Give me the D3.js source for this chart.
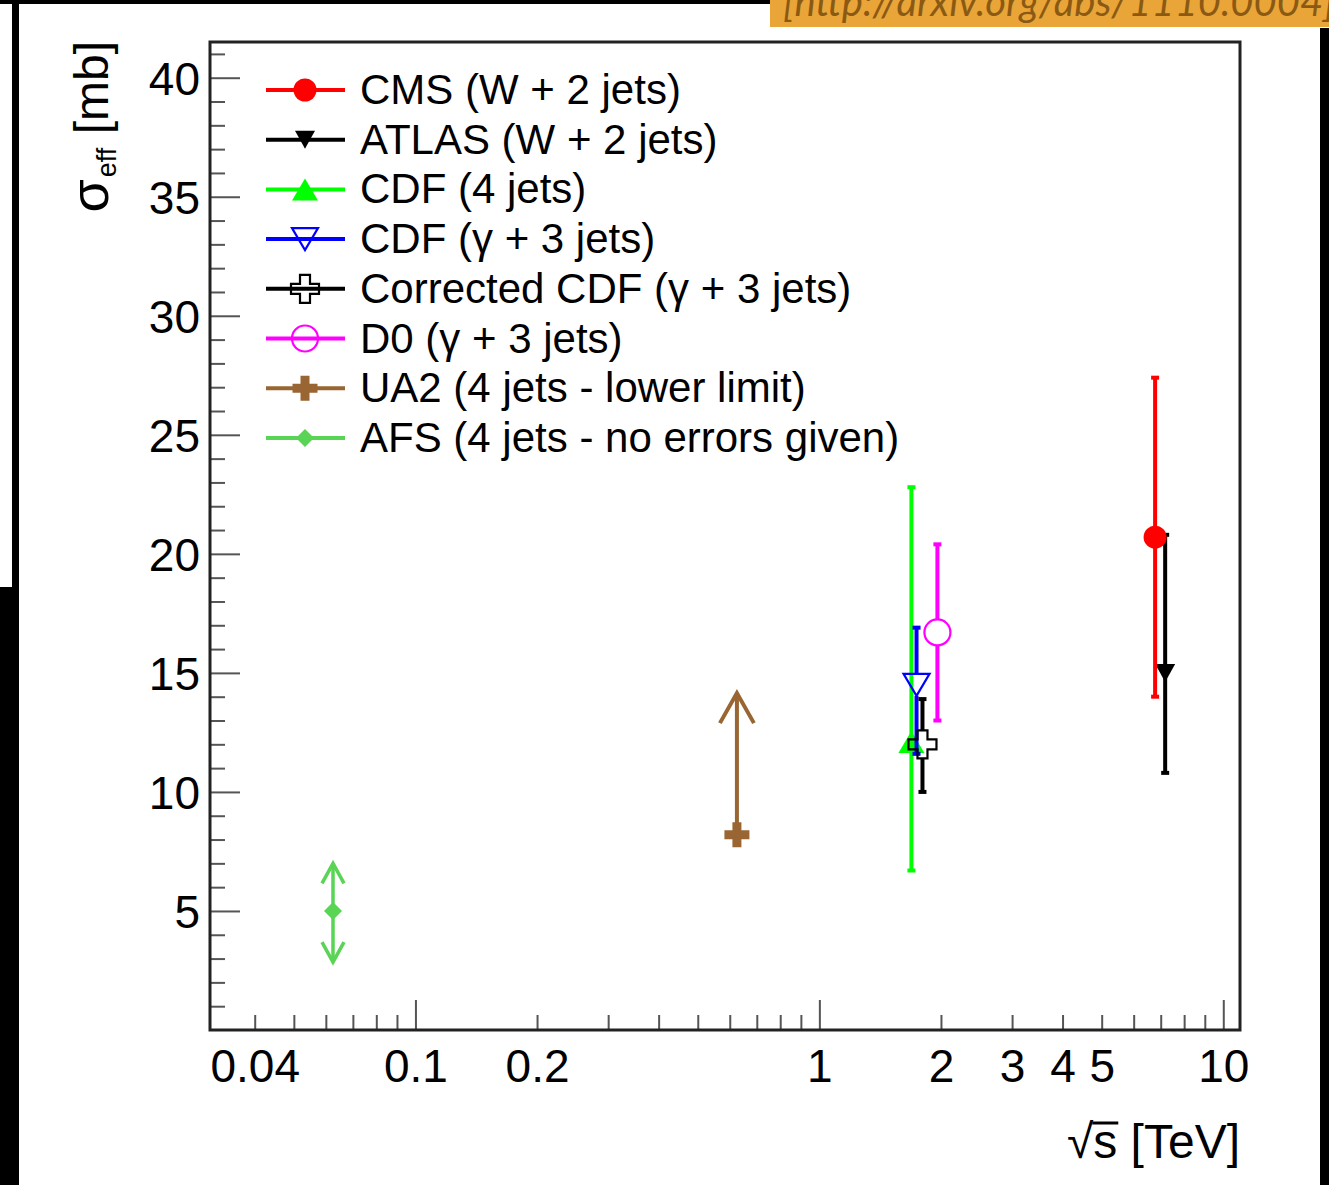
<!DOCTYPE html>
<html><head><meta charset="utf-8">
<script src="https://cdn.jsdelivr.net/npm/d3@7"></script>
<style>
body{margin:0;background:#fff;}
svg{display:block;}
text{font-family:"Liberation Sans",Arial,Helvetica,sans-serif;}
</style>
</head><body>
<svg id="c" width="1329" height="1185"></svg>
<script>
// ---------------- data ----------------
const seriesNames = [
  "CMS (W + 2 jets)",
  "ATLAS (W + 2 jets)",
  "CDF (4 jets)",
  "CDF (γ + 3 jets)",
  "Corrected CDF (γ + 3 jets)",
  "D0 (γ + 3 jets)",
  "UA2 (4 jets - lower limit)",
  "AFS (4 jets - no errors given)"
];
const sqrtS     = [6.78, 7.18, 1.69, 1.74, 1.80, 1.96, 0.625, 0.0625];
const sigmaEff  = [20.7, 15.0, 12.1, 14.5, 12.0, 16.7, 8.2, 5.0];
const sigmaHigh = [27.4, 20.8, 22.8, 16.9, 13.9, 20.4, 14.15, 7.0];
const sigmaLow  = [14.0, 10.8, 6.7, 11.6, 10.0, 13.0, null, 2.85];
const errorKind = ["bar","bar","bar","bar","bar","bar","limitUp","noError"];
const colors    = ["#ff0000","#000000","#00ff00","#0000ff","#000000","#ff00ff","#996633","#59d454"];
const markers   = ["circle","triangleDown","triangle","triangleDownOpen","crossOpen","circleOpen","plus","diamond"];

const xTickMajor  = [0.1, 1, 10];
const xTickMinor  = [0.04,0.05,0.06,0.07,0.08,0.09,0.2,0.3,0.4,0.5,0.6,0.7,0.8,0.9,2,3,4,5,6,7,8,9];
const xTickLabels = [0.04, 0.1, 0.2, 1, 2, 3, 4, 5, 10];
const yTickMajor  = [5,10,15,20,25,30,35,40];
const yTickMinor  = [1,2,3,4,6,7,8,9,11,12,13,14,16,17,18,19,21,22,23,24,26,27,28,29,31,32,33,34,36,37,38,39,41];
const xDomain = [0.031, 11];
const yDomain = [0, 41.5];

// ---------------- layout ----------------
const svg = d3.select("#c");
const L = 210, R = 1240, T = 42, B = 1030;
const x = d3.scaleLog().domain(xDomain).range([L, R]);
const y = d3.scaleLinear().domain(yDomain).range([B, T]);

// page decorations (surrounding screenshot pieces)
svg.append("rect").attr("x",0).attr("y",0).attr("width",770).attr("height",4).attr("fill","#000");
svg.append("rect").attr("x",12).attr("y",0).attr("width",7).attr("height",587).attr("fill","#000");
svg.append("rect").attr("x",0).attr("y",587).attr("width",19).attr("height",598).attr("fill","#000");
svg.append("rect").attr("x",1320).attr("y",28).attr("width",9).attr("height",1157).attr("fill","#000");
svg.append("rect").attr("x",770).attr("y",0).attr("width",559).attr("height",27).attr("fill","#e9a538");
svg.append("text").attr("x",783).attr("y",16)
  .style("font-family","Lato, 'Open Sans', sans-serif").style("font-style","italic")
  .style("font-size","40px").attr("fill","#8a5a14")
  .text("[http://arxiv.org/abs/1110.0004]");

// ---------------- axes ----------------
const tickCol = "#555";
function styleAxis(g){
  g.select(".domain").remove();
  g.selectAll(".tick line").attr("stroke",tickCol).attr("stroke-width",2);
  g.selectAll(".tick text").attr("fill","#000").style("font-size","46px")
   .style("font-family",'"Liberation Sans",Arial,Helvetica,sans-serif');
}
const fmtX = d => xTickLabels.includes(d) ? String(d) : "";
svg.append("g").attr("transform",`translate(0,${B})`)
  .call(d3.axisBottom(x).tickValues(xTickMajor).tickSize(-30).tickPadding(19).tickFormat(fmtX))
  .call(styleAxis);
svg.append("g").attr("transform",`translate(0,${B})`)
  .call(d3.axisBottom(x).tickValues(xTickMinor).tickSize(-15).tickPadding(19).tickFormat(fmtX))
  .call(styleAxis);
svg.append("g").attr("transform",`translate(${L},0)`)
  .call(d3.axisLeft(y).tickValues(yTickMajor).tickSize(-30).tickPadding(10).tickFormat(d3.format("d")))
  .call(styleAxis)
  .call(g=>g.selectAll(".tick text").attr("dy","0.37em"));
svg.append("g").attr("transform",`translate(${L},0)`)
  .call(d3.axisLeft(y).tickValues(yTickMinor).tickSize(-15).tickFormat(""))
  .call(styleAxis);

// frame
svg.append("rect").attr("x",L).attr("y",T).attr("width",R-L).attr("height",B-T)
  .attr("fill","none").attr("stroke","#222").attr("stroke-width",3);

// axis titles
const yt = svg.append("text").attr("transform",`translate(108,${T-1}) rotate(-90)`)
  .attr("text-anchor","end").style("font-size","48px");
yt.append("tspan").style("font-size","54px").text("σ");
yt.append("tspan").attr("dy",8).attr("dx",2).style("font-size","27px").text("eff");
yt.append("tspan").attr("dy",-8).text(" [mb]");

const xt = svg.append("text").attr("x",R).attr("y",1158).attr("text-anchor","end")
  .style("font-size","48px").text("√s [TeV]");
{
  const ext = xt.node().getExtentOfChar(1);
  svg.append("line").attr("x1",ext.x-1).attr("x2",ext.x+ext.width+1)
    .attr("y1",1158-35).attr("y2",1158-35).attr("stroke","#000").attr("stroke-width",3);
}

// ---------------- markers ----------------
function drawMarker(g, type, color){
  switch(type){
    case "circle": g.append("circle").attr("r",11.5).attr("fill",color); return;
    case "circleOpen": g.append("circle").attr("r",13).attr("fill","none").attr("stroke",color).attr("stroke-width",2.2); return;
    case "triangleDown": g.append("path").attr("d","M-10,-9L10,-9L0,9Z").attr("fill",color); return;
    case "triangle": g.append("path").attr("d","M-13,11L13,11L0,-11Z").attr("fill",color); return;
    case "triangleDownOpen": g.append("path").attr("d","M-13,-11L13,-11L0,11Z").attr("fill","none").attr("stroke",color).attr("stroke-width",2.2); return;
    case "crossOpen": {
      const a=5, l=14;
      g.append("path").attr("d",`M${-a},${-l}H${a}V${-a}H${l}V${a}H${a}V${l}H${-a}V${a}H${-l}V${-a}H${-a}Z`)
        .attr("fill","none").attr("stroke",color).attr("stroke-width",2.2); return;
    }
    case "plus": {
      const a=4.5, l=12.5;
      g.append("path").attr("d",`M${-a},${-l}H${a}V${-a}H${l}V${a}H${a}V${l}H${-a}V${a}H${-l}V${-a}H${-a}Z`).attr("fill",color); return;
    }
    case "diamond": g.append("path").attr("d","M0,-9L9,0L0,9L-9,0Z").attr("fill",color); return;
  }
}
const openGap = {triangleDownOpen:11, circleOpen:13, crossOpen:14};

// ---------------- data marks ----------------
const order = [7,6,2,3,4,5,1,0];
order.forEach(i=>{
  const cx = x(sqrtS[i]), cy = y(sigmaEff[i]), col = colors[i];
  const g = svg.append("g");
  const gap = openGap[markers[i]] || 0;
  if(errorKind[i]==="bar"){
    const yh = y(sigmaHigh[i]), yl = y(sigmaLow[i]);
    g.append("line").attr("x1",cx).attr("x2",cx).attr("y1",yh).attr("y2",cy-gap).attr("stroke",col).attr("stroke-width",4);
    g.append("line").attr("x1",cx).attr("x2",cx).attr("y1",cy+gap).attr("y2",yl).attr("stroke",col).attr("stroke-width",4);
    [yh,yl].forEach(v=>g.append("line").attr("x1",cx-4).attr("x2",cx+4).attr("y1",v).attr("y2",v).attr("stroke",col).attr("stroke-width",4));
  } else if(errorKind[i]==="limitUp"){
    const yh = y(sigmaHigh[i]);
    g.append("line").attr("x1",cx).attr("x2",cx).attr("y1",cy).attr("y2",yh+1).attr("stroke",col).attr("stroke-width",4);
    g.append("path").attr("d",`M${cx-17},${yh+30}L${cx},${yh}L${cx+17},${yh+30}`).attr("fill","none").attr("stroke",col).attr("stroke-width",4);
  } else {
    const yh = y(sigmaHigh[i]), yl = y(sigmaLow[i]);
    g.append("line").attr("x1",cx).attr("x2",cx).attr("y1",yh+1).attr("y2",yl-1).attr("stroke",col).attr("stroke-width",3.5);
    g.append("path").attr("d",`M${cx-11},${yh+20}L${cx},${yh}L${cx+11},${yh+20}`).attr("fill","none").attr("stroke",col).attr("stroke-width",3.5);
    g.append("path").attr("d",`M${cx-11},${yl-20}L${cx},${yl}L${cx+11},${yl-20}`).attr("fill","none").attr("stroke",col).attr("stroke-width",3.5);
  }
  drawMarker(g.append("g").attr("transform",`translate(${cx},${cy})`), markers[i], col);
});

// ---------------- legend ----------------
seriesNames.forEach((name,i)=>{
  const ly = 90 + i*49.7;
  const g = svg.append("g");
  g.append("line").attr("x1",266).attr("x2",345).attr("y1",ly).attr("y2",ly).attr("stroke",colors[i]).attr("stroke-width",4);
  drawMarker(g.append("g").attr("transform",`translate(305,${ly})`), markers[i], colors[i]);
  g.append("text").attr("x",360).attr("y",ly+14).style("font-size","42px").attr("fill","#000").text(name);
});
</script>
</body></html>
